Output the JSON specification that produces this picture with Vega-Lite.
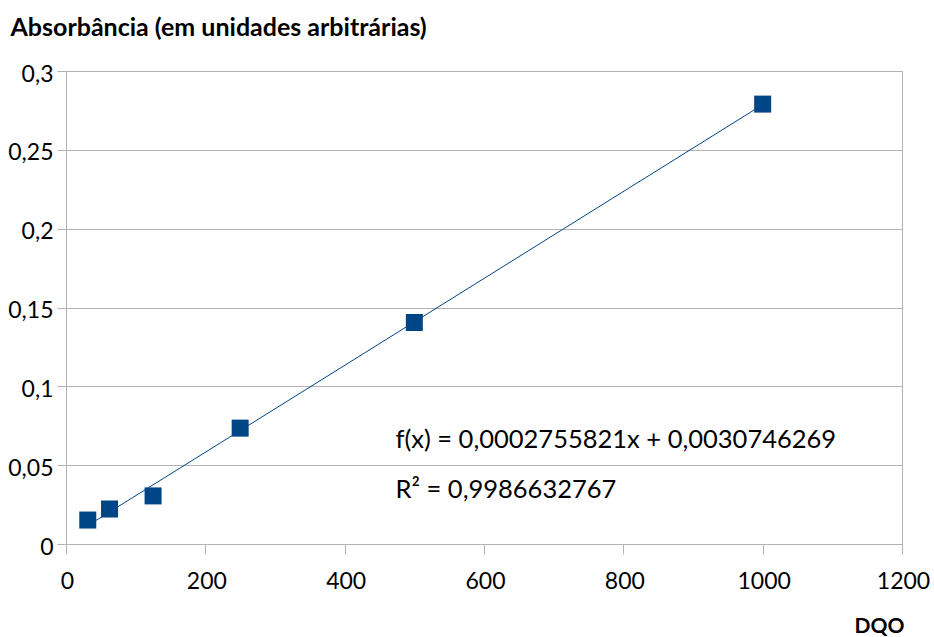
{
  "$schema": "https://vega.github.io/schema/vega-lite/v6.json",
  "autosize": {"type": "none"},
  "width": 836,
  "height": 473,
  "padding": {"left": 66, "top": 71, "right": 32, "bottom": 93},
  "background": "white",
  "config": {
    "font": "Lato",
    "view": {"stroke": "#b3b3b3", "strokeWidth": 1},
    "axis": {
      "labelFont": "Lato",
      "labelFontSize": 23,
      "labelColor": "#000000",
      "titleFont": "Lato",
      "titleFontWeight": "bold",
      "titleColor": "#000000",
      "domainColor": "#b3b3b3",
      "tickColor": "#b3b3b3",
      "gridColor": "#b3b3b3"
    }
  },
  "datasets": {
    "points": [
      {"dqo": 31.25, "abs": 0.0152},
      {"dqo": 62.5, "abs": 0.0222},
      {"dqo": 125, "abs": 0.0305},
      {"dqo": 250, "abs": 0.0735},
      {"dqo": 500, "abs": 0.1405},
      {"dqo": 1000, "abs": 0.279}
    ],
    "trend": [
      {"dqo": 31.25, "abs": 0.011687},
      {"dqo": 1000, "abs": 0.278657}
    ],
    "labels": [
      {"dqo": 473, "abs": 0.0606, "text": "f(x) = 0,0002755821x + 0,0030746269"},
      {"dqo": 473, "abs": 0.0289, "text": "R² = 0,9986632767"}
    ]
  },
  "layer": [
    {
      "data": {"name": "trend"},
      "mark": {"type": "line", "color": "#004586", "strokeWidth": 1},
      "encoding": {
        "x": {
          "field": "dqo", "type": "quantitative",
          "scale": {"domain": [0, 1200], "nice": false, "zero": true},
          "axis": {
            "title": "DQO",
            "titleFontSize": 21,
            "values": [0, 200, 400, 600, 800, 1000, 1200],
            "format": "d",
            "grid": false,
            "tickSize": 10,
            "labelPadding": 16,
            "labelFlush": false,
            "labelOffset": 1,
            "titleX": 813,
            "titleY": 88,
            "titleAlign": "center",
            "titleBaseline": "alphabetic",
            "titleAnchor": null
          }
        },
        "y": {
          "field": "abs", "type": "quantitative",
          "scale": {"domain": [0, 0.3], "nice": false},
          "axis": {
            "title": "Absorbância (em unidades arbitrárias)",
            "titleFontSize": 25,
            "values": [0, 0.05, 0.1, 0.15, 0.2, 0.25, 0.3],
            "labelExpr": "replace(format(datum.value, '~g'), '.', ',')",
            "grid": true,
            "tickSize": 9,
            "labelPadding": 4,
            "labelOffset": 3,
            "labelFlush": false,
            "titleAngle": 0,
            "titleX": -56,
            "titleY": -36,
            "titleAlign": "left",
            "titleBaseline": "alphabetic",
            "titleAnchor": null
          }
        }
      }
    },
    {
      "data": {"name": "points"},
      "mark": {"type": "point", "shape": "square", "filled": true, "size": 289, "color": "#004586", "opacity": 1},
      "encoding": {
        "x": {"field": "dqo", "type": "quantitative"},
        "y": {"field": "abs", "type": "quantitative"}
      }
    },
    {
      "data": {"name": "labels"},
      "mark": {"type": "text", "align": "left", "baseline": "alphabetic", "fontSize": 25.5, "font": "Lato", "color": "#000000"},
      "encoding": {
        "x": {"field": "dqo", "type": "quantitative"},
        "y": {"field": "abs", "type": "quantitative"},
        "text": {"field": "text"}
      }
    }
  ]
}
